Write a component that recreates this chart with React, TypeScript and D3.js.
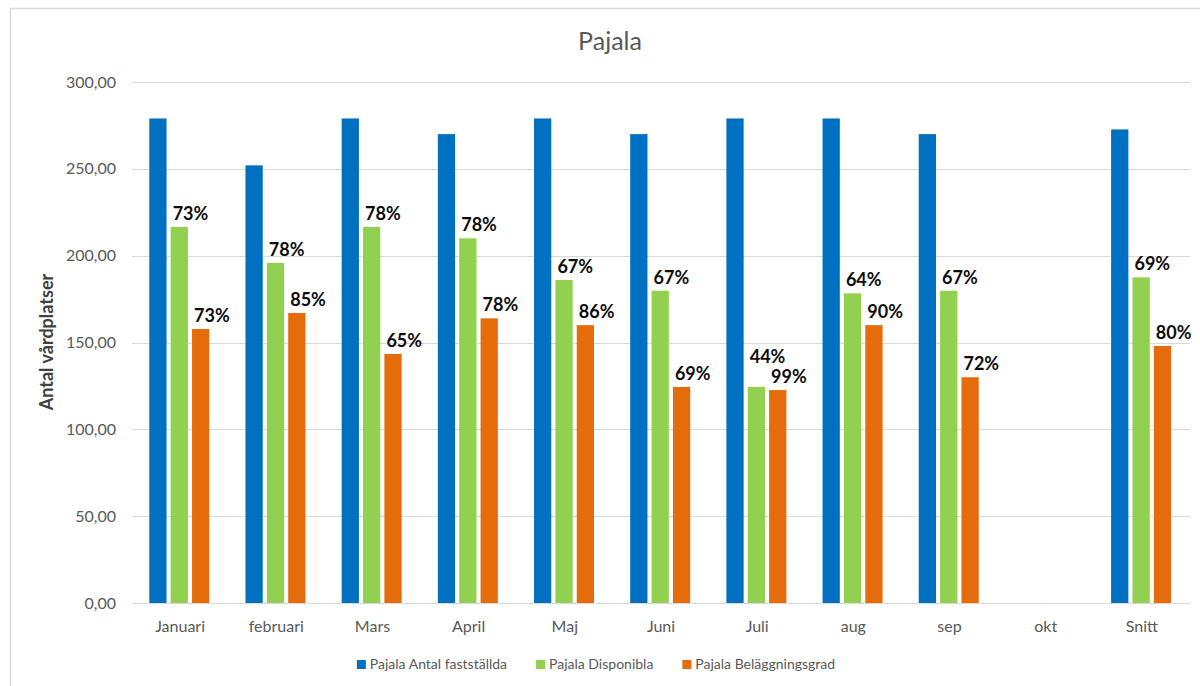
import React, { useEffect, useRef } from "react";
import * as d3 from "d3";

const categories = ["Januari", "februari", "Mars", "April", "Maj", "Juni", "Juli", "aug", "sep", "okt", "Snitt"];
const seriesNames = ["Pajala Antal fastställda", "Pajala Disponibla", "Pajala Beläggningsgrad"];
const antalFaststallda: (number | null)[] = [279, 252, 279, 270, 279, 270, 279, 279, 270, null, 272.7];
const disponibla: (number | null)[] = [216.5, 195.8, 216.5, 210, 186, 179.8, 124.4, 178.3, 179.8, null, 187.5];
const belaggning: (number | null)[] = [157.8, 167, 143.4, 163.9, 160, 124.4, 122.6, 160, 130, null, 148];
const disponiblaLabels = ["73%", "78%", "78%", "78%", "67%", "67%", "44%", "64%", "67%", "", "69%"];
const belaggningLabels = ["73%", "85%", "65%", "78%", "86%", "69%", "99%", "90%", "72%", "", "80%"];
const yTicks = [0, 50, 100, 150, 200, 250, 300];
const colors = ["#0070C0", "#92D050", "#E46C0A"];

const W = 1200;
const H = 686;
const FONT = "Lato, 'Open Sans', sans-serif";

export default function App() {
  const ref = useRef<SVGSVGElement>(null);

  useEffect(() => {
    const svg = d3.select(ref.current);
    svg.selectAll("*").remove();

    const plot = { left: 132, right: 1190, top: 82, bottom: 603 };

    svg.append("rect").attr("x", 0).attr("y", 0).attr("width", W).attr("height", H).attr("fill", "#fff");
    svg.append("rect")
      .attr("x", 10.5).attr("y", 8.5).attr("width", 1200).attr("height", 700)
      .attr("fill", "#fff").attr("stroke", "#d9d9d9").attr("stroke-width", 1.5);

    const x = d3.scaleBand<string>().domain(categories).range([plot.left, plot.right]).padding(0);
    const inner = d3.scaleBand<number>().domain([0, 1, 2]).range([-30.8, 29.2]).paddingInner(0.192).paddingOuter(0);
    const y = d3.scaleLinear().domain([0, 300]).range([plot.bottom, plot.top]);

    // gridlines
    svg.append("g").selectAll("line").data(yTicks).join("line")
      .attr("x1", plot.left).attr("x2", plot.right)
      .attr("y1", (d) => Math.round(y(d)) + 0.5).attr("y2", (d) => Math.round(y(d)) + 0.5)
      .attr("stroke", "#d9d9d9").attr("stroke-width", 1);

    // y tick labels
    const fmt = (v: number) => v.toFixed(2).replace(".", ",");
    svg.append("g").selectAll("text").data(yTicks).join("text")
      .attr("x", 116).attr("y", (d) => y(d)).attr("dy", "0.35em")
      .attr("text-anchor", "end").attr("font-family", FONT).attr("font-size", 16)
      .attr("fill", "#595959").text((d) => fmt(d));

    // y axis title
    svg.append("text")
      .attr("transform", `translate(53,342) rotate(-90)`)
      .attr("text-anchor", "middle").attr("font-family", FONT).attr("font-size", 18)
      .attr("font-weight", "bold").attr("fill", "#404040").text("Antal vårdplatser");

    // title
    svg.append("text").attr("x", 610).attr("y", 50).attr("text-anchor", "middle")
      .attr("font-family", FONT).attr("font-size", 25).attr("fill", "#595959").text("Pajala");

    const series = [antalFaststallda, disponibla, belaggning];
    const bw = inner.bandwidth();
    series.forEach((vals, si) => {
      svg.append("g").selectAll("rect")
        .data(categories.map((c, i) => ({ c, v: vals[i] })).filter((d) => d.v != null))
        .join("rect")
        .attr("x", (d) => (x(d.c) as number) + x.bandwidth() / 2 + (inner(si) as number))
        .attr("y", (d) => y(d.v as number))
        .attr("width", bw)
        .attr("height", (d) => y(0) - y(d.v as number))
        .attr("fill", colors[si]);
    });

    // data labels
    type Lab = { x: number; y: number; t: string };
    const labs: Lab[] = [];
    categories.forEach((c, i) => {
      const cx = (x(c) as number) + x.bandwidth() / 2;
      const g = disponibla[i];
      const o = belaggning[i];
      let gy = g != null ? y(g) - 7 : 0;
      const oy = o != null ? y(o) - 7 : 0;
      if (g != null && o != null && Math.abs(gy - oy) < 20) {
        gy = oy - 20;
      }
      if (g != null && disponiblaLabels[i]) labs.push({ x: cx + (inner(1) as number) + 2, y: gy, t: disponiblaLabels[i] });
      if (o != null && belaggningLabels[i]) labs.push({ x: cx + (inner(2) as number) + 2, y: oy, t: belaggningLabels[i] });
    });
    svg.append("g").selectAll("text").data(labs).join("text")
      .attr("x", (d) => d.x).attr("y", (d) => d.y)
      .attr("font-family", FONT).attr("font-size", 18).attr("font-weight", "bold")
      .attr("fill", "#0d0d0d").text((d) => d.t);

    // category labels
    svg.append("g").selectAll("text").data(categories).join("text")
      .attr("x", (d) => (x(d) as number) + x.bandwidth() / 2).attr("y", 632)
      .attr("text-anchor", "middle").attr("font-family", FONT).attr("font-size", 16)
      .attr("fill", "#595959").text((d) => d);

    // legend
    const lg = svg.append("g");
    const items = seriesNames.map((n, i) => {
      const gi = lg.append("g");
      gi.append("rect").attr("x", 0).attr("y", 660).attr("width", 9).attr("height", 9).attr("fill", colors[i]);
      const t = gi.append("text").attr("x", 13).attr("y", 669)
        .attr("font-family", FONT).attr("font-size", 14).attr("fill", "#595959").text(n);
      const w = 13 + (t.node() as SVGTextElement).getComputedTextLength();
      return { gi, w };
    });
    const gap = 29;
    const total = items.reduce((s, d) => s + d.w, 0) + gap * (items.length - 1);
    let cur = 596 - total / 2;
    items.forEach((it) => {
      it.gi.attr("transform", `translate(${cur},0)`);
      cur += it.w + gap;
    });
  }, []);

  return (
    <svg
      ref={ref}
      width={W}
      height={H}
      style={{ position: "absolute", left: 0, top: 0, display: "block" }}
    />
  );
}
